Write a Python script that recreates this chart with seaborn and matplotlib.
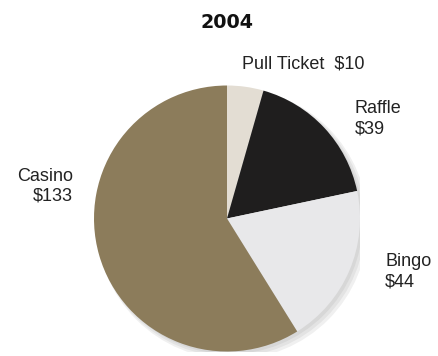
import matplotlib
matplotlib.use("Agg")
import matplotlib.pyplot as plt
import seaborn as sns

sns.set_theme(style="white")
plt.rcParams['font.family'] = ['Liberation Sans', 'DejaVu Sans']

categories = ["Pull Ticket", "Raffle", "Bingo", "Casino"]
values = [10, 39, 44, 133]
labels = ["Pull Ticket  $10", "Raffle\n$39", "Bingo\n$44", "Casino\n$133"]
colors = ["#e3ddd3", "#1f1e1e", "#e8e8ea", "#8c7c5b"]

fig = plt.figure(figsize=(4.38, 3.56), dpi=100)
ax = fig.add_axes([94/438, 4/356, 266/438, 267/356])

# soft shadow
for i, a in enumerate([0.05, 0.05, 0.06]):
    sh = plt.Circle((0.02 + 0.01*i, -0.02 - 0.01*i), 1.0 + 0.01*i, color="black", alpha=a, lw=0, zorder=0)
    ax.add_patch(sh)

wedges, _ = ax.pie(values, colors=colors, startangle=90, counterclock=False,
                   wedgeprops=dict(linewidth=0, edgecolor="none"))
for w in wedges:
    w.set_zorder(2)
ax.set_xlim(-1.0, 1.0)
ax.set_ylim(-1.0, 1.0)
ax.set_aspect("equal")
ax.axis("off")

fs = 13
ax.text(0.11, 1.165, labels[0], ha="left", va="center", fontsize=fs, color="#222222")
ax.text(0.96, 0.75, labels[1], ha="left", va="center", fontsize=fs, color="#222222", linespacing=1.2)
ax.text(1.19, -0.40, labels[2], ha="left", va="center", fontsize=fs, color="#222222", linespacing=1.2)
ax.text(-1.16, 0.24, labels[3], ha="right", va="center", fontsize=fs, color="#222222",
        multialignment="right", linespacing=1.2)

fig.text(227/438, 1 - 23/356, "2004", ha="center", va="center", fontsize=13.8,
         fontweight="bold", color="#111111", family=["DejaVu Sans"])

fig.savefig("out.png", dpi=100, facecolor="white")
